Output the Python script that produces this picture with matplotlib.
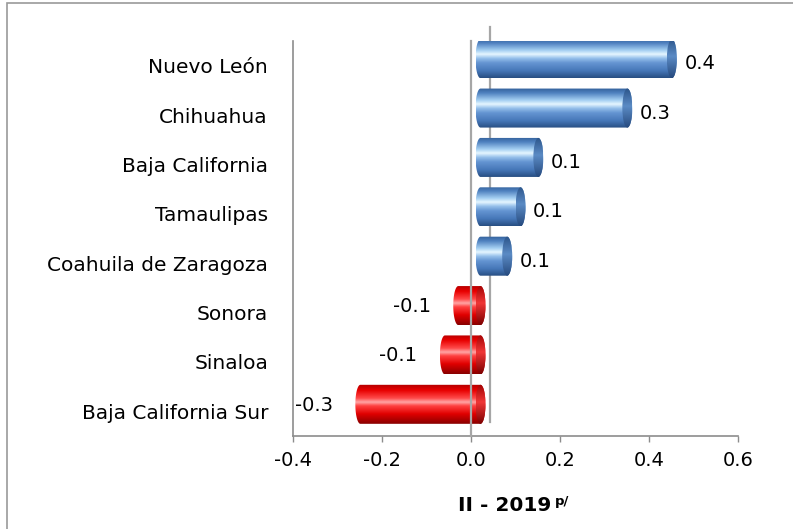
import numpy as np
import matplotlib
matplotlib.use("Agg")
import matplotlib.pyplot as plt
from matplotlib.path import Path
from matplotlib.patches import PathPatch, Ellipse, Rectangle
from matplotlib.colors import LinearSegmentedColormap
from matplotlib.transforms import offset_copy

# ---------------- data ----------------
states = ["Nuevo León", "Chihuahua", "Baja California", "Tamaulipas",
          "Coahuila de Zaragoza", "Sonora", "Sinaloa", "Baja California Sur"]
values = [0.43, 0.33, 0.13, 0.09, 0.06, -0.05, -0.08, -0.27]
value_labels = ["0.4", "0.3", "0.1", "0.1", "0.1", "-0.1", "-0.1", "-0.3"]
x_ticks = [-0.4, -0.2, 0.0, 0.2, 0.4, 0.6]
x_tick_labels = ["-0.4", "-0.2", "0.0", "0.2", "0.4", "0.6"]
axis_title = "II - 2019"
axis_title_sup = "p/"

# ---------------- figure ----------------
W, H = 793, 529
fig = plt.figure(figsize=(W / 100, H / 100), dpi=100)
fig.patch.set_facecolor("white")
ax_l, ax_r, ax_t, ax_b = 293, 738, 41, 436
ax = fig.add_axes([ax_l / W, 1 - ax_b / H, (ax_r - ax_l) / W, (ax_b - ax_t) / H])
ax.set_facecolor("none")

n = len(states)
ypos = np.arange(n)[::-1]

FS = 14
GRAY = "#8c8c8c"

blue_body = LinearSegmentedColormap.from_list("bb", [
    (0.0, "#33609a"), (0.12, "#4f81c0"), (0.30, "#a4cff2"), (0.40, "#e6f6ff"),
    (0.50, "#98c2ec"), (0.62, "#6595d2"), (0.82, "#4677b8"), (1.0, "#284e82")])
red_body = LinearSegmentedColormap.from_list("rb", [
    (0.0, "#b00000"), (0.15, "#e80000"), (0.35, "#ff4a4a"), (0.45, "#ffa6a6"),
    (0.55, "#ff4040"), (0.75, "#e00000"), (1.0, "#880000")])
blue_cap = LinearSegmentedColormap.from_list("bc", [
    (0.0, "#2b5489"), (0.45, "#5b8bc5"), (1.0, "#264a7e")])
red_cap = LinearSegmentedColormap.from_list("rc", [
    (0.0, "#a00000"), (0.45, "#f03636"), (1.0, "#7c0000")])

grad = np.linspace(0, 1, 128).reshape(-1, 1)

bar_trans = offset_copy(ax.transData, fig=fig, x=9.5, y=7, units="dots")
bar_h = 0.79
r = bar_h / 2
e = 5.0 / 445.0  # half width of elliptical ends, in data units


def stadium(a, b, c, r, e, npts=40):
    t1 = np.linspace(np.pi / 2, -np.pi / 2, npts)
    right = np.column_stack([b + e * np.cos(t1), c + r * np.sin(t1)])
    t2 = np.linspace(-np.pi / 2, -3 * np.pi / 2, npts)
    left = np.column_stack([a + e * np.cos(t2), c + r * np.sin(t2)])
    verts = np.vstack([right, left, right[:1]])
    codes = [Path.MOVETO] + [Path.LINETO] * (len(verts) - 2) + [Path.CLOSEPOLY]
    return Path(verts, codes)


for y, v in zip(ypos, values):
    a, b = min(0, v), max(0, v)
    body_cmap = blue_body if v >= 0 else red_body
    cap_cmap = blue_cap if v >= 0 else red_cap
    patch = PathPatch(stadium(a, b, y, r, e), transform=bar_trans,
                      facecolor="none", edgecolor="none")
    ax.add_patch(patch)
    im = ax.imshow(grad, cmap=body_cmap, extent=[a - e, b + e, y - r, y + r],
                   aspect="auto", interpolation="bilinear", origin="upper", zorder=3)
    im.set_transform(bar_trans)
    im.set_clip_path(patch)
    cap = Ellipse((b, y), 2 * e, 2 * r, transform=bar_trans,
                  facecolor="none", edgecolor="none")
    ax.add_patch(cap)
    imc = ax.imshow(grad, cmap=cap_cmap, extent=[b - e, b + e, y - r, y + r],
                    aspect="auto", interpolation="bilinear", origin="upper", zorder=4)
    imc.set_transform(bar_trans)
    imc.set_clip_path(cap)

# back wall zero line (behind bars) and front zero line (over bars)
back_trans = offset_copy(ax.get_xaxis_transform(), fig=fig, x=19, y=14, units="dots")
ax.plot([0, 0], [0, 1], transform=back_trans, color="#a6a6a6", lw=1.6,
        zorder=1, clip_on=False)
ax.plot([0, 0], [0, 1], transform=ax.get_xaxis_transform(), color="#a6a6a6",
        lw=1.6, zorder=6, clip_on=False)

# value labels
for y, v, lbl in zip(ypos, values, value_labels):
    if v >= 0:
        ax.annotate(lbl, xy=(v, y), xytext=(22, 2), textcoords="offset pixels",
                    ha="left", va="center", fontsize=FS, color="black", zorder=7)
    else:
        ax.annotate(lbl, xy=(v, y), xytext=(-18, 6), textcoords="offset pixels",
                    ha="right", va="center", fontsize=FS, color="black", zorder=7)

ax.set_xlim(-0.4, 0.6)
ax.set_ylim(-0.5, n - 0.5)
ax.set_xticks(x_ticks)
ax.set_xticklabels(x_tick_labels)
ax.set_yticks(ypos)
ax.set_yticklabels(states)
ax.tick_params(axis="x", length=4, width=1, color=GRAY, pad=7, labelsize=FS)
ax.tick_params(axis="y", length=0, pad=18, labelsize=14.5)
for s in ["top", "right"]:
    ax.spines[s].set_visible(False)
for s in ["left", "bottom"]:
    ax.spines[s].set_color(GRAY)
    ax.spines[s].set_linewidth(1.2)

# axis title with superscript
fig.text(551 / W, 1 - 511 / H, axis_title, ha="right", va="baseline",
         fontsize=14.5, fontweight="bold")
fig.text(555 / W, 1 - 505 / H, axis_title_sup, ha="left", va="baseline",
         fontsize=9.5, fontweight="bold")

# chart border
fig.add_artist(Rectangle((7 / W, -0.1), 1.2, 1 - 3 / H + 0.1,
                         transform=fig.transFigure, fill=False,
                         edgecolor="#9a9a9a", lw=1.2))

fig.savefig("out.png", dpi=100)
